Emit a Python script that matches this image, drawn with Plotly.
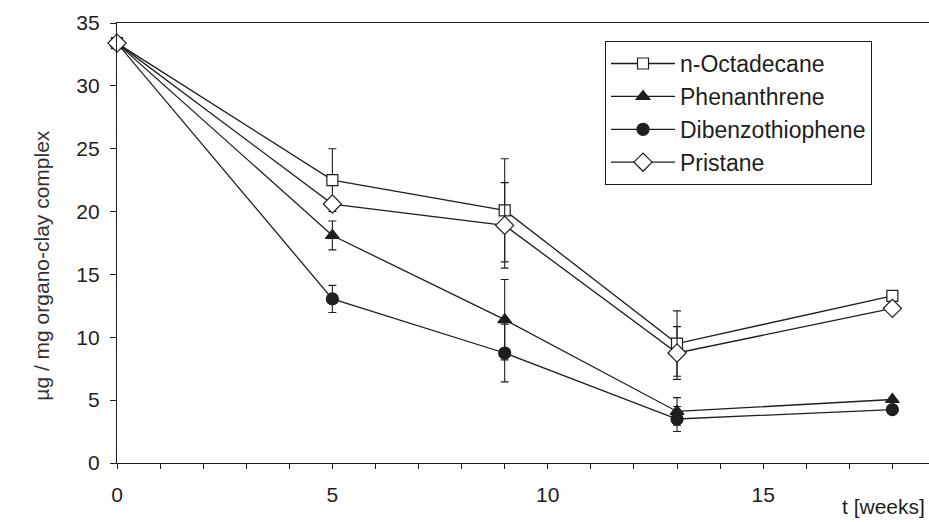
import plotly.graph_objects as go

weeks = [0, 5, 9, 13, 18]
octadecane = [33.4, 22.5, 20.1, 9.5, 13.3]
octadecane_err = [0, 2.5, 4.1, 2.6, 0]
phenanthrene = [33.4, 18.1, 11.4, 4.1, 5.05]
phenanthrene_err = [0, 1.15, 3.2, 1.1, 0]
dibenzothiophene = [33.4, 13.05, 8.75, 3.5, 4.25]
dibenzothiophene_err = [0, 1.08, 2.3, 1.0, 0]
pristane = [33.4, 20.6, 18.9, 8.75, 12.3]
pristane_err = [0, 0, 3.4, 2.1, 0]

INK = "#1e1e1e"
FONT = "Arial, Liberation Sans, sans-serif"

series = [
    ("n-Octadecane", octadecane, octadecane_err, "square-open", 11),
    ("Phenanthrene", phenanthrene, phenanthrene_err, "triangle-up", 12),
    ("Dibenzothiophene", dibenzothiophene, dibenzothiophene_err, "circle", 12),
    ("Pristane", pristane, pristane_err, "diamond-open", 14),
]

fig = go.Figure()
for name, ys, errs, sym, sz in series:
    filled = not sym.endswith("open")
    fig.add_trace(go.Scatter(
        x=weeks, y=ys, name=name, mode="lines+markers", cliponaxis=False,
        line=dict(color=INK, width=1.3),
        marker=dict(symbol=sym.replace("-open", "") if not filled else sym,
                    size=sz,
                    color=INK if filled else "white",
                    line=dict(color=INK, width=1.2)),
        error_y=dict(type="data", array=errs, visible=True,
                     color=INK, thickness=1.1, width=4),
    ))

fig.update_layout(
    width=929, height=522,
    margin=dict(l=117, r=0, t=23, b=59),
    paper_bgcolor="white", plot_bgcolor="white",
    font=dict(family=FONT, size=20, color=INK),
    showlegend=True,
    legend=dict(
        x=0.601, y=0.959, xanchor="left", yanchor="top",
        bgcolor="white", bordercolor=INK, borderwidth=1,
        font=dict(size=23, family=FONT, color=INK),
        itemwidth=64,
    ),
    xaxis=dict(
        range=[0, 18.85], tickvals=[0, 5, 10, 15], showgrid=False, zeroline=False,
        showline=True, linecolor=INK, linewidth=1.2, mirror=True,
        ticks="outside", ticklen=5, tickcolor=INK, tickwidth=1,
        minor=dict(dtick=1, ticks="outside", ticklen=5, tickcolor=INK, tickwidth=1, showgrid=False),
        tickfont=dict(size=21), ticklabelstandoff=8,
    ),
    yaxis=dict(
        range=[0, 35], dtick=5, showgrid=False, zeroline=False,
        showline=True, linecolor=INK, linewidth=1.2,
        ticks="outside", ticklen=6, tickcolor=INK, tickwidth=1,
        tickfont=dict(size=21), ticklabelstandoff=6,
    ),
    annotations=[
        dict(text="t [weeks]", xref="paper", yref="paper", x=0.998, y=-0.098,
             xanchor="right", yanchor="middle", showarrow=False,
             font=dict(size=21, family=FONT, color=INK)),
        dict(text="µg / mg organo-clay complex", xref="paper", yref="paper",
             x=-0.094, y=0.45, xanchor="center", yanchor="middle", textangle=-90,
             showarrow=False, font=dict(size=21, family=FONT, color="#333333")),
    ],
)

fig.write_html("out.html")
